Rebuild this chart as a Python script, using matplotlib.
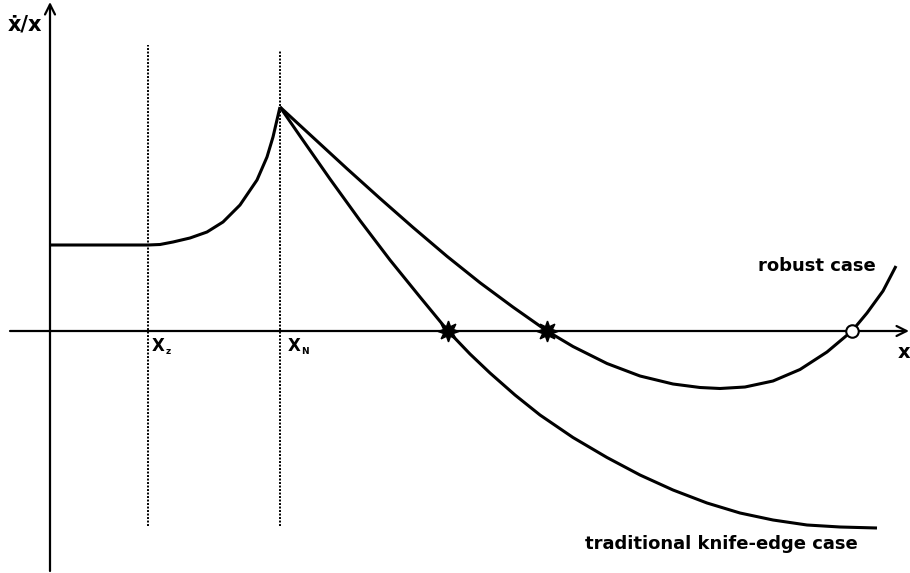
import matplotlib
matplotlib.use("Agg")
import matplotlib.pyplot as plt

# Positions of the two thresholds on the x axis
x_z = 98
x_N = 230

# Flat segment and rising branch up to the peak at x_N
rise_x = [0, 98, 110, 123, 140, 157, 173, 190, 207, 217, 223, 230]
rise_y = [86, 86, 86.5, 89, 93, 99, 109, 126, 151, 174, 194, 224]

# Robust case, from the peak to the right edge
robust_x = [230, 263, 297, 330, 363, 397, 430, 463, 497, 523, 557, 590, 623,
            650, 670, 695, 723, 750, 777, 802, 817, 833, 846]
robust_y = [224, 193.6, 162.3, 132.6, 103.6, 74.7, 48.3, 23.9, 0, -15.5,
            -32.5, -45, -53, -56.5, -57.5, -56, -50, -38.5, -21, 0, 18, 40, 65]

# Traditional knife-edge case, from the peak to the right edge
trad_x = [230, 250, 280, 310, 340, 370, 398, 420, 440, 465, 490, 523, 557,
          590, 623, 657, 690, 723, 757, 790, 827]
trad_y = [224, 195, 152, 110.5, 71, 34, 0, -23, -42, -64, -84, -106.5,
          -126.5, -144, -159, -172, -182, -189, -194, -196, -197]

# Stable equilibria (stars) and the unstable one (open circle)
stable_x = [398, 497]
unstable_x = [802]

fig = plt.figure(figsize=(9.1, 5.73), dpi=100)
ax = fig.add_axes([0, 0, 1, 1])
ax.set_xlim(-50, 860)
ax.set_ylim(-242, 331)
ax.axis("off")

# Axes with open arrow heads
ax.annotate("", xy=(859, 0), xytext=(-40, 0),
            arrowprops=dict(arrowstyle="->", lw=1.6, color="black",
                            mutation_scale=18, shrinkA=0, shrinkB=0))
ax.annotate("", xy=(0, 329), xytext=(0, -240),
            arrowprops=dict(arrowstyle="->", lw=1.6, color="black",
                            mutation_scale=18, shrinkA=0, shrinkB=0))

# Dotted threshold lines
ax.plot([x_z, x_z], [-195, 286], color="black", lw=1.4, ls=(0, (1, 0.8)))
ax.plot([x_N, x_N], [-195, 281], color="black", lw=1.4, ls=(0, (1, 0.8)))

curve_kw = dict(color="black", lw=2.2, solid_capstyle="butt", solid_joinstyle="round")
ax.plot(rise_x, rise_y, **curve_kw)
ax.plot(robust_x, robust_y, **curve_kw)
ax.plot(trad_x, trad_y, **curve_kw)

ax.plot(stable_x, [0] * len(stable_x), ls="none", marker=(8, 1, 0),
        markersize=15, color="black", zorder=5)
ax.plot(unstable_x, [0] * len(unstable_x), ls="none", marker="o",
        markersize=9, markerfacecolor="white", markeredgecolor="black",
        markeredgewidth=1.5, zorder=5)

font = "DejaVu Sans"
ax.text(-42, 307, "ẋ/x", fontsize=15, fontweight="bold", family=font,
        ha="left", va="center")
ax.text(102, -15, "X", fontsize=12, fontweight="bold", family=font,
        ha="left", va="center")
ax.text(116, -21, "z", fontsize=6.5, fontweight="bold", family=font,
        ha="left", va="center")
ax.text(238, -15, "X", fontsize=12, fontweight="bold", family=font,
        ha="left", va="center")
ax.text(251, -21, "N", fontsize=6.5, fontweight="bold", family=font,
        ha="left", va="center")
ax.text(848, -21, "x", fontsize=14, fontweight="bold", family=font,
        ha="left", va="center")
ax.text(708, 65, "robust case", fontsize=13, fontweight="bold", family=font,
        ha="left", va="center")
ax.text(535, -213, "traditional knife-edge case", fontsize=13,
        fontweight="bold", family=font, ha="left", va="center")

fig.savefig("out.png", dpi=100)
